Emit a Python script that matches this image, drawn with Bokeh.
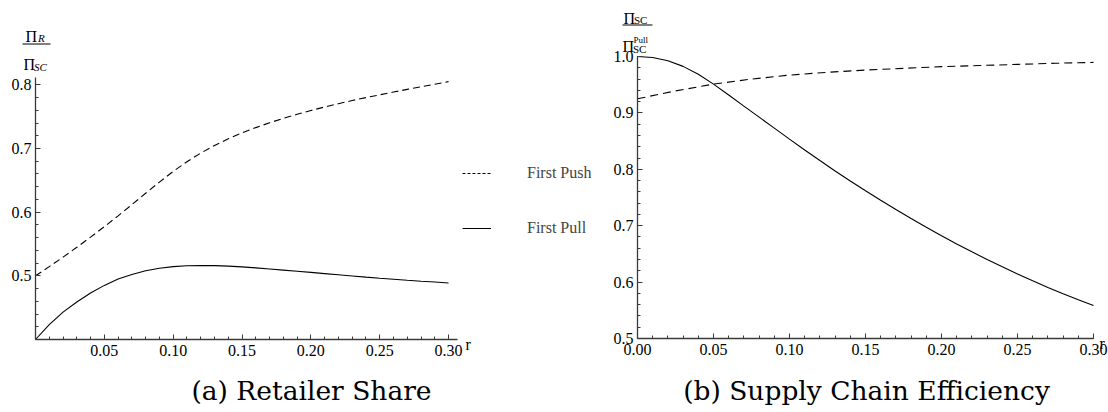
from bokeh.plotting import figure
from bokeh.layouts import row
from bokeh.models import FixedTicker, Label, Arrow, Legend, LegendItem, PrintfTickFormatter, Range1d
from bokeh.embed import file_html
from bokeh.resources import INLINE

# ---------------- data ----------------
r_fine = [round(0.01 * i, 2) for i in range(31)]
r_coarse = [0.0, 0.025, 0.05, 0.075, 0.10, 0.125, 0.15, 0.175, 0.20, 0.225, 0.25, 0.275, 0.30]

retailer_pull = [0.400, 0.4235, 0.443, 0.459, 0.473, 0.485, 0.495, 0.502, 0.508, 0.512,
                 0.5145, 0.5158, 0.5162, 0.5160, 0.5153, 0.5140, 0.5125, 0.5108, 0.5090, 0.5072,
                 0.5054, 0.5035, 0.5016, 0.4998, 0.4980, 0.4963, 0.4947, 0.4931, 0.4916, 0.4902, 0.4888]
retailer_push = [0.500, 0.5145, 0.5293, 0.5448, 0.5608, 0.5772, 0.5942, 0.6118, 0.6297, 0.6472,
                 0.6640, 0.6792, 0.6928, 0.7047, 0.7152, 0.7245, 0.7328, 0.7404, 0.7473, 0.7537,
                 0.7597, 0.7652, 0.7704, 0.7753, 0.7799, 0.7843, 0.7886, 0.7928, 0.7969, 0.8010, 0.8050]

efficiency_pull = [1.000, 0.9982, 0.9925, 0.9825, 0.9685, 0.951, 0.9318, 0.912, 0.8925, 0.873,
                   0.8535, 0.8342, 0.8155, 0.7971, 0.7793, 0.7619, 0.7451, 0.7286, 0.7127, 0.6972,
                   0.6823, 0.6677, 0.6537, 0.6401, 0.6271, 0.6144, 0.6023, 0.5906, 0.5795, 0.5687, 0.5585]
efficiency_push = [0.925, 0.939, 0.951, 0.960, 0.967, 0.972, 0.976, 0.979, 0.982, 0.984, 0.986, 0.988, 0.9895]

x_ticks_a = [0.05, 0.10, 0.15, 0.20, 0.25, 0.30]
y_ticks_a = [0.5, 0.6, 0.7, 0.8]
x_ticks_b = [0.00, 0.05, 0.10, 0.15, 0.20, 0.25, 0.30]
y_ticks_b = [0.5, 0.6, 0.7, 0.8, 0.9, 1.0]

legend_labels = ["First Push", "First Pull"]
caption_a = "(a) Retailer Share"
caption_b = "(b) Supply Chain Efficiency"

# ---------------- style ----------------
FONT = "Liberation Serif"
CAPTION_FONT = "DejaVu Serif"
AXC = "#3a3a3a"
H = 412
W1, W2 = 606, 502
PAGE_LEFT_1 = 0
PAGE_LEFT_2 = W1


class Mapper:
    """page pixel -> data coordinate for a figure whose frame fills the figure"""
    def __init__(self, px0, x0, kx, py0, y0, ky):
        self.px0, self.x0, self.kx, self.py0, self.y0, self.ky = px0, x0, kx, py0, y0, ky

    def x(self, px):
        return self.x0 + (px - self.px0) * self.kx

    def y(self, py):
        return self.y0 + (self.py0 - py) * self.ky


def make_fig(w, m, page_left, xbounds, ybounds):
    p = figure(width=w, height=H,
               x_range=Range1d(m.x(page_left), m.x(page_left + w)),
               y_range=Range1d(m.y(H), m.y(0)),
               output_backend="svg", toolbar_location=None,
               min_border_left=0, min_border_right=0, min_border_top=0, min_border_bottom=0)
    p.xgrid.visible = False
    p.ygrid.visible = False
    p.outline_line_color = None
    p.background_fill_color = "white"
    p.border_fill_color = "white"
    for ax in (p.xaxis[0], p.yaxis[0]):
        ax.axis_line_color = AXC
        ax.axis_line_width = 1.3
        ax.major_tick_line_color = AXC
        ax.minor_tick_line_color = AXC
        ax.major_tick_in = 5
        ax.major_tick_out = 0
        ax.minor_tick_in = 3
        ax.minor_tick_out = 0
        ax.major_label_text_font = FONT
        ax.major_label_text_font_size = "16px"
        ax.major_label_text_color = "black"
    p.xaxis[0].fixed_location = ybounds[0]
    p.yaxis[0].fixed_location = xbounds[0]
    p.xaxis[0].bounds = xbounds
    p.yaxis[0].bounds = ybounds
    p.xaxis[0].major_label_standoff = 5
    p.yaxis[0].major_label_standoff = 4
    return p


def text(p, m, px, py, s, size, style="normal", align="left", font=FONT, baseline="alphabetic"):
    p.add_layout(Label(x=m.x(px), y=m.y(py), text=s, text_font=font, text_font_size=size,
                       text_font_style=style, text_align=align, text_baseline=baseline,
                       text_color="black"))


def hline(p, m, px0, px1, py):
    p.add_layout(Arrow(start=None, end=None, x_start=m.x(px0), y_start=m.y(py),
                       x_end=m.x(px1), y_end=m.y(py), line_color="black", line_width=1))


minor_x = [round(0.01 * i, 2) for i in range(31)]

# ---------------- (a) Retailer Share ----------------
m1 = Mapper(35, 0.0, 0.3065 / 422, 339, 0.4, 0.4115 / 262)
p1 = make_fig(W1, m1, PAGE_LEFT_1, (0, 0.3065), (0.4, 0.8115))
p1.xaxis[0].ticker = FixedTicker(ticks=x_ticks_a, minor_ticks=minor_x)
p1.yaxis[0].ticker = FixedTicker(ticks=y_ticks_a, minor_ticks=[round(0.02 * i, 2) for i in range(20, 41)])
p1.xaxis[0].formatter = PrintfTickFormatter(format="%.2f")
p1.yaxis[0].formatter = PrintfTickFormatter(format="%.1f")

p1.line(r_fine, retailer_push, line_color="black", line_width=1.1, line_dash="7 4")
p1.line(r_fine, retailer_pull, line_color="black", line_width=1.1)
# hidden twins of the two series, used only for the legend samples (finer dash as in the original)
leg_push = p1.line(r_fine, retailer_push, line_color="black", line_width=1, line_dash="3 2", visible=False)
leg_pull = p1.line(r_fine, retailer_pull, line_color="black", line_width=1, visible=False)
legend = Legend(items=[LegendItem(label=legend_labels[0], renderers=[leg_push]),
                       LegendItem(label=legend_labels[1], renderers=[leg_pull])],
                location=(462, H - 238), padding=0, margin=0, spacing=35,
                glyph_width=29, glyph_height=20, label_standoff=36,
                border_line_color=None, background_fill_alpha=0,
                inactive_fill_alpha=0, click_policy="none",
                label_text_font=FONT, label_text_font_size="16px")
p1.add_layout(legend)

text(p1, m1, 25, 36, "Π", "16px")
text(p1, m1, 37.5, 37.5, "R", "11px", "italic")
hline(p1, m1, 22, 50, 43.5)
text(p1, m1, 23, 63.5, "Π", "16px")
text(p1, m1, 33.5, 66.5, "SC", "11px", "italic")
text(p1, m1, 465, 344, "r", "16px")
text(p1, m1, 311, 390, caption_a, "26.5px", align="center", font=CAPTION_FONT, baseline="middle")

# ---------------- (b) Supply Chain Efficiency ----------------
m2 = Mapper(637, 0.0, 0.30 / 456, 338, 0.5, 0.5 / 282)
p2 = make_fig(W2, m2, PAGE_LEFT_2, (0, 0.30), (0.5, 1.0))
p2.xaxis[0].ticker = FixedTicker(ticks=x_ticks_b, minor_ticks=minor_x)
p2.yaxis[0].ticker = FixedTicker(ticks=y_ticks_b, minor_ticks=[round(0.02 * i, 2) for i in range(25, 51)])
p2.xaxis[0].formatter = PrintfTickFormatter(format="%.2f")
p2.yaxis[0].formatter = PrintfTickFormatter(format="%.1f")

p2.line(r_coarse, efficiency_push, line_color="black", line_width=1.1, line_dash="8 5")
p2.line(r_fine, efficiency_pull, line_color="black", line_width=1.1)

text(p2, m2, 623, 17.5, "Π", "16px")
text(p2, m2, 633.5, 19.5, "SC", "11px")
hline(p2, m2, 622, 652, 24.5)
text(p2, m2, 622, 45.5, "Π", "16px")
text(p2, m2, 632.5, 48.5, "SC", "11px")
text(p2, m2, 633, 39, "Pull", "9px")
text(p2, m2, 1099, 343, "r", "16px")
text(p2, m2, 866, 390, caption_b, "26.5px", align="center", font=CAPTION_FONT, baseline="middle")

layout = row(p1, p2)
open("out.html", "w").write(file_html(layout, INLINE))
